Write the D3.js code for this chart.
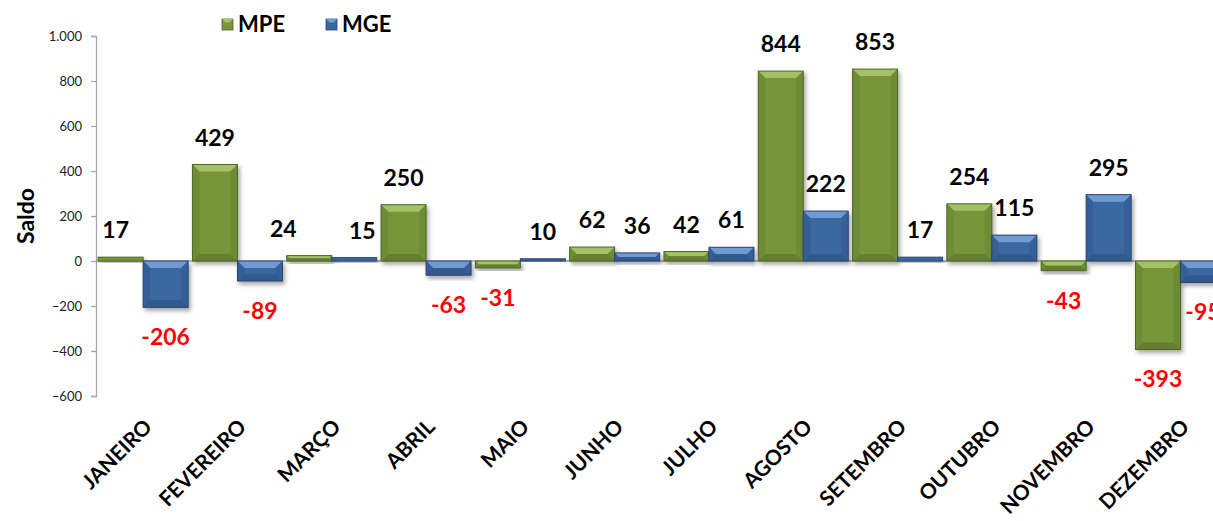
<!DOCTYPE html>
<html>
<head>
<meta charset="utf-8">
<script src="https://cdn.jsdelivr.net/npm/d3@7"></script>
<style>
  body { margin: 0; background: #fff; overflow: hidden; }
  svg { display: block; font-family: Lato, "Open Sans", sans-serif; }
</style>
</head>
<body>
<svg id="chart" width="1213" height="521"></svg>
<script>
// months on the x axis
var months = ['JANEIRO', 'FEVEREIRO', 'MARÇO', 'ABRIL', 'MAIO', 'JUNHO',
  'JULHO', 'AGOSTO', 'SETEMBRO', 'OUTUBRO', 'NOVEMBRO', 'DEZEMBRO'];

// saldo per series
var mpe = [17, 429, 24, 250, -31, 62, 42, 844, 853, 254, -43, -393];
var mge = [-206, -89, 15, -63, 10, 36, 61, 222, 17, 115, 295, -95];

var seriesNames = ['MPE', 'MGE'];
var yTicks = [-600, -400, -200, 0, 200, 400, 600, 800, 1000];

// colours: main, top bevel, bottom bevel, side, outline
var palette = {
  MPE: { main: '#77953b', top: '#a3c266', bottom: '#647f30', side: '#6e8c35', line: '#4f6626' },
  MGE: { main: '#3b67a0', top: '#6f9bd2', bottom: '#30598c', side: '#365f96', line: '#284872' }
};

var svg = d3.select('#chart');

var defs = svg.append('defs');
var shadow = defs.append('filter').attr('id', 'shadow')
  .attr('x', '-20%').attr('y', '-20%').attr('width', '160%').attr('height', '160%');
shadow.append('feDropShadow')
  .attr('dx', 2).attr('dy', 3).attr('stdDeviation', 2.2)
  .attr('flood-color', '#000').attr('flood-opacity', 0.35);

var x = d3.scaleBand().domain(months).range([96, 96 + 12 * 94.3]);
var xs = d3.scaleBand().domain(seriesNames).range([0, x.bandwidth()]).paddingOuter(0.048);
var y = d3.scaleLinear().domain([-600, 1000]).range([396, 36]);

// zero line
svg.append('line')
  .attr('x1', 96).attr('x2', 1213)
  .attr('y1', y(0)).attr('y2', y(0))
  .attr('stroke', '#a6a6a6').attr('stroke-width', 1.3);

// y axis
var yAxis = svg.append('g')
  .attr('transform', 'translate(96,0)')
  .call(d3.axisLeft(y).tickValues(yTicks).tickSize(5).tickPadding(9)
    .tickFormat(function(d){ return d3.format(',')(d).replace(',', '.'); }));
yAxis.select('.domain').attr('stroke', '#a6a6a6').attr('stroke-width', 1.3);
yAxis.selectAll('.tick line').attr('stroke', '#a6a6a6').attr('stroke-width', 1.3);
yAxis.selectAll('.tick text')
  .attr('font-size', 13).attr('fill', '#222')
  .attr('font-family', 'Lato, sans-serif');

// axis title
svg.append('text')
  .attr('transform', 'translate(34,' + 216 + ') rotate(-90)')
  .attr('text-anchor', 'middle')
  .style('font-size', '23px').style('font-weight', 'bold')
  .text('Saldo');

// build rows
var rows = [];
months.forEach(function(m, i){
  rows.push({ month: m, series: 'MPE', value: mpe[i], i: i });
  rows.push({ month: m, series: 'MGE', value: mge[i], i: i });
});

// bevelled bar
function drawBar(g, d){
  var c = palette[d.series];
  var x0 = x(d.month) + xs(d.series);
  var w = xs.bandwidth();
  var y0 = Math.min(y(d.value), y(0));
  var h = Math.abs(y(d.value) - y(0));
  var bar = g.append('g').attr('filter', 'url(#shadow)');
  bar.append('rect')
    .attr('x', x0).attr('y', y0).attr('width', w).attr('height', Math.max(h, 1.5))
    .attr('fill', c.main);
  var b = Math.min(7, h / 2, w / 2);
  if (h > 4) {
    var x1 = x0 + w, y1 = y0 + h;
    var poly = function(pts, fill){
      bar.append('polygon')
        .attr('points', pts.map(function(p){ return p.join(','); }).join(' '))
        .attr('fill', fill);
    };
    poly([[x0, y0], [x1, y0], [x1 - b, y0 + b], [x0 + b, y0 + b]], c.top);
    poly([[x0, y1], [x1, y1], [x1 - b, y1 - b], [x0 + b, y1 - b]], c.bottom);
    poly([[x0, y0], [x0 + b, y0 + b], [x0 + b, y1 - b], [x0, y1]], c.side);
    poly([[x1, y0], [x1 - b, y0 + b], [x1 - b, y1 - b], [x1, y1]], c.side);
  }
  bar.append('rect')
    .attr('x', x0).attr('y', y0).attr('width', w).attr('height', Math.max(h, 1.5))
    .attr('fill', 'none').attr('stroke', c.line).attr('stroke-width', 1);
}

var bars = svg.append('g');
rows.forEach(function(d){ drawBar(bars, d); });

// small nudges where the original labels were moved by hand
var nudge = { 'JANEIRO-MPE': -5, 'MARÇO-MPE': -26, 'MARÇO-MGE': 8 };

svg.append('g').selectAll('text')
  .data(rows)
  .join('text')
  .attr('x', function(d){
    return x(d.month) + xs(d.series) + xs.bandwidth() / 2 + (nudge[d.month + '-' + d.series] || 0);
  })
  .attr('y', function(d){
    return d.value >= 0 ? y(d.value) - 27 : y(d.value) + 30;
  })
  .attr('dy', '0.35em')
  .attr('text-anchor', 'middle')
  .style('font-size', '23px').style('font-weight', 'bold')
  .attr('fill', function(d){ return d.value >= 0 ? '#000' : '#ff0000'; })
  .text(function(d){ return d.value; });

// x labels
svg.append('g').selectAll('text')
  .data(months)
  .join('text')
  .attr('transform', function(m){
    return 'translate(' + (x(m) + x.bandwidth() / 2 - 1) + ',417) rotate(-45)';
  })
  .attr('text-anchor', 'end')
  .attr('dy', '0.75em')
  .style('font-size', '21px').style('font-weight', 'bold')
  .text(function(m){ return m; });

// legend
var legend = svg.append('g');
var legendX = { MPE: 222, MGE: 326 };
seriesNames.forEach(function(s){
  var c = palette[s];
  var lx = legendX[s];
  legend.append('rect').attr('x', lx).attr('y', 19).attr('width', 11).attr('height', 11)
    .attr('fill', c.main).attr('stroke', c.line).attr('stroke-width', 0.8);
  legend.append('polygon')
    .attr('points', [[lx, 19], [lx + 11, 19], [lx + 7.5, 22.5], [lx + 3.5, 22.5]].map(function(p){ return p.join(','); }).join(' '))
    .attr('fill', c.top);
  legend.append('text')
    .attr('x', lx + 16).attr('y', 32)
    .style('font-size', '22px').style('font-weight', 'bold')
    .text(s);
});
</script>
</body>
</html>
